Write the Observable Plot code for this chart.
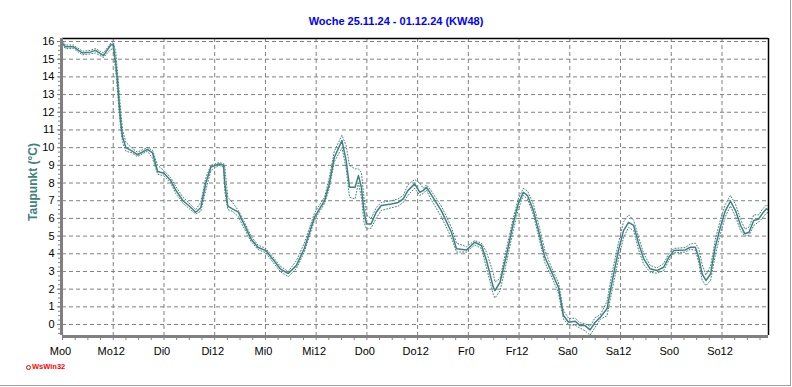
<!DOCTYPE html>
<html>
<head>
<meta charset="utf-8">
<script src="https://cdn.jsdelivr.net/npm/d3@7"></script>
<script src="https://cdn.jsdelivr.net/npm/@observablehq/plot@0.6"></script>
<style>
  html, body { margin: 0; padding: 0; background: white; }
  #wrap { position: relative; width: 792px; height: 387px; overflow: hidden; font-family: "Liberation Sans", Arial, sans-serif; }
  #frame { position: absolute; left: 0; top: 0; width: 790px; height: 385px; border-right: 1px solid #a0a0a0; border-bottom: 1px solid #a0a0a0; pointer-events: none; }
  #title { position: absolute; left: 0; top: 15px; width: 792px; text-align: center; font-weight: bold; font-size: 11px; line-height: 13px; color: #0000ff; }
  #ylabel { position: absolute; left: 33px; top: 182px; transform: translate(-50%, -50%) rotate(-90deg); white-space: nowrap; font-weight: bold; font-size: 12px; line-height: 14px; color: #408080; }
  #logo { position: absolute; left: 26px; top: 362px; font-weight: bold; font-size: 7.5px; line-height: 10px; color: #ff0000; }
  #logo span.dot { display: inline-block; width: 3px; height: 3px; border: 1px solid #ff0000; border-radius: 50%; margin-right: 1px; vertical-align: middle; }
  #chart { position: absolute; left: 0; top: 0; }
</style>
</head>
<body>
<div id="wrap">
  <div id="chart"></div>
  <div id="title"></div>
  <div id="ylabel"></div>
  <div id="logo"><span class="dot"></span>WsWin32</div>
  <div id="frame"></div>
</div>
<script>
const titleText = "Woche 25.11.24 - 01.12.24 (KW48)";
const yLabel = "Taupunkt (°C)";

const xTickHours = [0, 12, 24, 36, 48, 60, 72, 84, 96, 108, 120, 132, 144, 156];
const xTickLabels = ["Mo0", "Mo12", "Di0", "Di12", "Mi0", "Mi12", "Do0", "Do12", "Fr0", "Fr12", "Sa0", "Sa12", "So0", "So12"];
const yTicks = [0, 1, 2, 3, 4, 5, 6, 7, 8, 9, 10, 11, 12, 13, 14, 15, 16];

const hours = [0, 0.7, 2.6, 4.7, 6.6, 7.8, 9.7, 11.4, 12.0, 12.6, 13.0, 13.4, 13.8, 14.2, 15.0, 16.5, 17.7, 20.1, 21.3, 22.5,
  24.0, 25.6, 26.8, 28.5, 30.0, 31.5, 32.7, 33.9, 35.1, 37.0, 38.1, 38.4, 39.1, 40.2, 41.6, 42.6, 44.6, 46.2, 48.1, 49.7,
  51.5, 53.4, 55.3, 57.2, 59.6, 62.0, 63.1, 64.3, 66.1, 67.1, 67.9, 69.2, 70.0, 70.7, 71.3, 71.9, 73.0, 74.2, 75.4, 77.8,
  79.4, 80.6, 81.7, 83.3, 84.5, 85.3, 86.1, 87.1, 89.6, 92.0, 93.2, 95.6, 97.5, 99.1, 100.3, 101.9, 102.3, 103.5, 105.1, 106.6,
  107.8, 109.0, 110.0, 111.4, 112.6, 114.1, 115.7, 117.3, 118.5, 119.7, 121.3, 122.4, 123.6, 124.8, 126.0, 127.2, 128.8, 129.9, 131.5, 132.7,
  133.9, 135.1, 136.3, 137.5, 139.0, 140.6, 142.2, 143.4, 144.6, 147.3, 148.5, 149.7, 150.5, 151.3, 152.2, 153.3, 154.4, 155.6, 156.8, 158.0,
  159.2, 160.4, 161.4, 162.4, 163.5, 164.7, 165.5, 166.5, 167.0];

const taupunkt = [15.9, 15.7, 15.7, 15.35, 15.4, 15.5, 15.2, 15.8, 15.85, 14.75, 13.8, 12.5, 11.4, 10.6, 10.0, 9.8, 9.6, 9.9, 9.7, 8.65,
  8.55, 8.14, 7.6, 7.0, 6.7, 6.35, 6.6, 8.0, 8.9, 9.08, 9.0, 7.95, 6.7, 6.54, 6.35, 5.84, 4.84, 4.37, 4.18, 3.71,
  3.15, 2.88, 3.33, 4.3, 6.07, 7.0, 7.95, 9.46, 10.4, 9.27, 7.76, 7.76, 8.42, 7.76, 6.44, 5.69, 5.69, 6.35, 6.73, 6.82,
  6.9, 7.1, 7.57, 7.95, 7.48, 7.57, 7.76, 7.39, 6.44, 5.22, 4.28, 4.22, 4.65, 4.47, 3.62, 2.11, 1.92, 2.39, 4.0, 5.69,
  6.82, 7.48, 7.29, 6.44, 5.31, 3.8, 2.96, 2.11, 0.51, 0.13, 0.19, -0.06, -0.06, -0.3, 0.13, 0.41, 0.89, 2.3, 4.18, 5.31,
  5.78, 5.6, 4.56, 3.71, 3.15, 3.05, 3.24, 3.8, 4.18, 4.22, 4.37, 4.37, 3.8, 2.86, 2.49, 2.86, 4.37, 5.5, 6.44, 6.97,
  6.44, 5.6, 5.13, 5.22, 5.88, 5.97, 6.26, 6.54, 6.48];

const taupunktMax = [16.0, 15.8, 15.8, 15.45, 15.5, 15.6, 15.35, 15.9, 16.0, 15.4, 14.3, 13.2, 12.0, 11.0, 10.3, 9.95, 9.75, 10.0, 9.85, 9.0,
  8.7, 8.3, 7.8, 7.2, 6.85, 6.5, 6.9, 8.3, 9.0, 9.15, 9.1, 8.9, 7.2, 6.9, 6.45, 6.0, 5.0, 4.5, 4.3, 3.85,
  3.3, 3.0, 3.6, 4.6, 6.3, 7.2, 8.3, 9.8, 10.7, 10.1, 9.0, 8.8, 8.8, 8.6, 7.2, 6.2, 6.0, 6.6, 6.9, 7.0,
  7.1, 7.3, 7.9, 8.2, 8.0, 7.7, 7.9, 7.6, 6.7, 5.5, 4.6, 4.4, 4.75, 4.6, 4.1, 2.9, 2.4, 2.6, 4.4, 6.0,
  7.1, 7.7, 7.55, 6.8, 5.7, 4.2, 3.2, 2.4, 0.8, 0.35, 0.35, 0.1, 0.05, -0.1, 0.4, 0.55, 1.3, 2.8, 4.6, 5.8,
  6.2, 5.9, 4.9, 4.0, 3.35, 3.2, 3.45, 4.0, 4.3, 4.35, 4.55, 4.6, 4.3, 3.4, 2.8, 3.3, 4.8, 5.9, 6.8, 7.3,
  6.8, 5.95, 5.4, 5.5, 6.2, 6.2, 6.5, 6.75, 6.7];

const taupunktMin = [15.8, 15.6, 15.6, 15.25, 15.3, 15.35, 15.1, 15.55, 15.6, 14.3, 13.2, 12.0, 11.0, 10.3, 9.8, 9.7, 9.5, 9.8, 9.4, 8.5,
  8.4, 8.0, 7.4, 6.85, 6.55, 6.25, 6.4, 7.6, 8.7, 9.0, 8.9, 7.5, 6.5, 6.4, 6.1, 5.6, 4.7, 4.25, 4.05, 3.55,
  3.0, 2.7, 3.15, 4.1, 5.9, 6.85, 7.7, 9.2, 10.0, 8.8, 7.2, 7.1, 8.0, 7.2, 5.8, 5.4, 5.45, 6.0, 6.45, 6.6,
  6.7, 6.9, 7.3, 7.7, 7.3, 7.4, 7.6, 7.1, 6.1, 4.9, 4.1, 4.1, 4.5, 4.3, 3.2, 1.7, 1.5, 1.9, 3.6, 5.3,
  6.5, 7.3, 7.1, 6.2, 5.0, 3.5, 2.7, 1.8, 0.3, 0.0, -0.05, -0.2, -0.35, -0.6, -0.15, 0.3, 0.5, 1.8, 3.7, 4.9,
  5.5, 5.3, 4.2, 3.4, 2.95, 2.9, 3.05, 3.6, 4.05, 4.1, 4.25, 4.2, 3.5, 2.5, 2.2, 2.5, 3.9, 5.1, 6.1, 6.7,
  6.1, 5.3, 5.0, 5.05, 5.6, 5.8, 6.0, 6.3, 6.35];

const rows = hours.map((h, i) => ({ h, mean: taupunkt[i], max: taupunktMax[i], min: taupunktMin[i] }));

const teal = "#408080";
const grey = "#808080";
const xDomain = [0, 167];
const yDomain = [-0.62, 16.17];
const minorX = d3.range(0, 168, 3);
const minorY = d3.range(-0.5, 16.01, 0.25);
const gridX = xTickHours.filter(h => h > 0);

document.getElementById("title").textContent = titleText;
document.getElementById("ylabel").textContent = yLabel;

const chart = Plot.plot({
  width: 792,
  height: 387,
  marginLeft: 62,
  marginRight: 24,
  marginTop: 38,
  marginBottom: 52,
  x: { domain: xDomain, axis: null },
  y: { domain: yDomain, axis: null },
  style: { fontFamily: "'Liberation Sans', Arial, sans-serif", fontSize: "11px", background: "transparent", color: "black" },
  marks: [
    Plot.ruleY(yTicks, { stroke: grey, strokeWidth: 1, strokeDasharray: "4,3" }),
    Plot.ruleX(gridX, { stroke: grey, strokeWidth: 1, strokeDasharray: "4,3" }),
    Plot.line(rows, { x: "h", y: "max", stroke: teal, strokeWidth: 1, strokeDasharray: "1,2" }),
    Plot.line(rows, { x: "h", y: "min", stroke: teal, strokeWidth: 1, strokeDasharray: "1,2" }),
    Plot.line(rows, { x: "h", y: "mean", stroke: teal, strokeWidth: 1.5 }),
    Plot.ruleY([yDomain[1]], { stroke: "black", strokeWidth: 1.5 }),
    Plot.ruleX([xDomain[1]], { stroke: "black", strokeWidth: 1.5 }),
    Plot.ruleX([xDomain[0]], { stroke: grey, strokeWidth: 3, dx: -1 }),
    Plot.ruleY([yDomain[0]], { stroke: grey, strokeWidth: 3, dy: 1 }),
    Plot.axisX(minorX, { tickSize: 5, tickFormat: () => "", stroke: grey, label: null }),
    Plot.axisX(xTickHours, { tickSize: 0, tickPadding: 12, dx: -2, fontSize: 11, label: null, tickFormat: d => xTickLabels[xTickHours.indexOf(d)] }),
    Plot.axisY(minorY, { tickSize: 3, tickFormat: () => "", stroke: grey, dx: -1, label: null }),
    Plot.axisY(yTicks, { tickSize: 4, tickPadding: 3, fontSize: 11, stroke: grey, dx: -1, label: null })
  ]
});
document.getElementById("chart").appendChild(chart);
</script>
</body>
</html>
